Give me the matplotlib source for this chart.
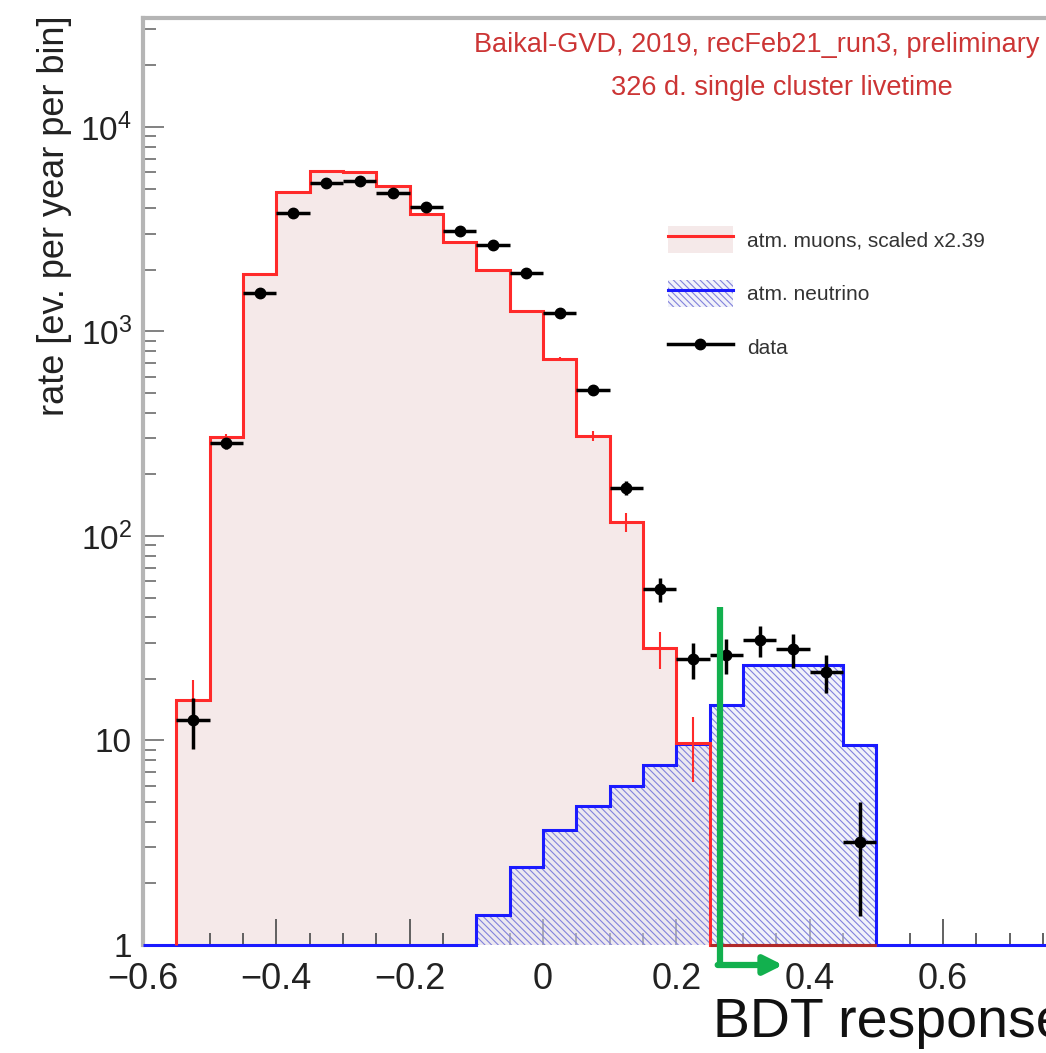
import numpy as np
import matplotlib
matplotlib.use("Agg")
import matplotlib.pyplot as plt
from matplotlib.patches import Patch
from matplotlib.lines import Line2D
from matplotlib.legend_handler import HandlerTuple

plt.rcParams['font.family'] = ['Liberation Sans', 'DejaVu Sans']
plt.rcParams['mathtext.fontset'] = 'custom'
plt.rcParams['mathtext.rm'] = 'Liberation Sans'
plt.rcParams['mathtext.it'] = 'Liberation Sans'
plt.rcParams['hatch.linewidth'] = 0.8

# ---------------- data ----------------
bin_width = 0.05
# muon MC: bins from -0.55 to 0.50
mu_edges = np.round(np.arange(-0.55, 0.50 + 1e-9, bin_width), 3)
muon = [15.8, 305, 1910, 4820, 6110, 6000, 5160, 3750, 2750, 2000, 1260,
        734, 308, 117, 28.2, 9.7, 0, 0, 0, 0, 0]
muon_err = [4.0, 10, 20, 30, 35, 35, 30, 25, 20, 20, 15,
            18, 18, 12, 5.8, 3.4, 0, 0, 0, 0, 0]
# atmospheric neutrino MC: bins from -0.60 to 0.80
nu_edges = np.round(np.arange(-0.60, 0.80 + 1e-9, bin_width), 3)
neutrino = [0, 0, 0, 0, 0, 0, 0, 0, 0, 0,
            1.40, 2.40, 3.65, 4.79, 6.0, 7.59, 9.6, 14.9, 23.5, 23.5, 23.5, 9.5,
            0, 0, 0, 0, 0, 0]
# data: same bins as muon MC
data = [12.6, 284, 1540, 3780, 5310, 5460, 4770, 4050, 3100, 2650, 1940,
        1236, 517, 172, 54.8, 24.9, 26.2, 31.0, 27.9, 21.7, 3.18]
data_err = [3.5, 17, 39, 61, 73, 74, 69, 64, 56, 51, 44,
            35, 23, 13, 7.4, 5.0, 5.1, 5.3, 5.2, 4.6, 1.8]

cut_value = 0.265      # BDT cut (green arrow)
cut_arrow_top = 45     # top of the green marker line
cut_arrow_end = 0.36

x_ticks = [-0.6, -0.4, -0.2, 0, 0.2, 0.4, 0.6, 0.8]
x_tick_labels = ['\u22120.6', '\u22120.4', '\u22120.2', '0', '0.2', '0.4', '0.6', '']
y_ticks = [1, 10, 100, 1000, 10000]
y_tick_labels = ['1', '10', r'$\mathregular{10^{2}}$', r'$\mathregular{10^{3}}$', r'$\mathregular{10^{4}}$']

YMIN, YMAX = 1.0, 3.41e4
XMIN, XMAX = -0.6, 0.8

# colours
RED = '#ff2a2a'
DARKRED = '#b02a2a'
PINK = '#f5e9e9'
BLUE = '#1a1aff'
HATCH = '#8282dc'
NUFACE = (0.90, 0.91, 0.97, 0.55)
GREEN = '#12b04e'
TITLE_RED = '#cc3535'

# ---------------- figure ----------------
W, H = 1046, 1053
fig = plt.figure(figsize=(W / 100, H / 100), dpi=100)
ax_left, ax_top, ax_bottom = 143, 18, 945
px_per_unit = 666.7
ax_right = 543 + XMAX * px_per_unit
ax = fig.add_axes([ax_left / W, 1 - ax_bottom / H, (ax_right - ax_left) / W, (ax_bottom - ax_top) / H])
ax.set_yscale('log')
ax.set_xlim(XMIN, XMAX)
ax.set_ylim(YMIN, YMAX)

muon_a = np.array(muon, float)
nu_a = np.array(neutrino, float)
mu_plot = np.where(muon_a > 0, muon_a, YMIN)
nu_plot = np.where(nu_a > 0, nu_a, YMIN)

# fills
ax.stairs(mu_plot, mu_edges, baseline=YMIN, fill=True, facecolor=PINK, zorder=1)
ax.stairs(nu_plot, nu_edges, baseline=YMIN, fill=True, facecolor=NUFACE,
          edgecolor=HATCH, hatch='\\\\\\\\\\', linewidth=0, zorder=2)
# outlines
ax.stairs(nu_plot, nu_edges, baseline=YMIN, color=BLUE, linewidth=2.2, zorder=3, clip_on=False)
ax.stairs(mu_plot, mu_edges, baseline=YMIN, color=RED, linewidth=2.2, zorder=3.5, clip_on=False)
# zero-content muon bins drawn at the axis floor in a darker tone
zero_mu = np.where(muon_a > 0, np.nan, YMIN)
ax.stairs(zero_mu, mu_edges, baseline=None, color=DARKRED, linewidth=2.2, zorder=3.6, clip_on=False)

mu_centers = (mu_edges[:-1] + mu_edges[1:]) / 2
mask = muon_a > 0
ax.errorbar(mu_centers[mask], muon_a[mask], yerr=np.array(muon_err)[mask], fmt='none',
            ecolor=RED, elinewidth=1.5, zorder=3.6)

ax.errorbar(mu_centers, data, yerr=data_err, xerr=bin_width / 2, fmt='o', color='black',
            ms=7.5, elinewidth=2.5, capsize=0, zorder=5)

# cut arrow
y_low = 10 ** (-20 / 204.5)
ax.plot([cut_value, cut_value], [cut_arrow_top, y_low], color=GREEN, lw=4.5,
        solid_capstyle='butt', clip_on=False, zorder=6)
ax.annotate('', xy=(cut_arrow_end, y_low), xytext=(cut_value - 0.003, y_low),
            arrowprops=dict(arrowstyle='-|>', color=GREEN, lw=4.5, mutation_scale=28,
                            shrinkA=0, shrinkB=0),
            annotation_clip=False, zorder=6)

# axes style
for s in ['right', 'bottom']:
    ax.spines[s].set_visible(False)
for s in ['left', 'top']:
    ax.spines[s].set_color('#b5b5b5')
    ax.spines[s].set_linewidth(3)
ax.set_xticks(x_ticks)
ax.set_xticklabels(x_tick_labels)
ax.set_xticks(np.round(np.arange(-0.55, 0.8, 0.05), 3), minor=True)
ax.set_yticks(y_ticks)
ax.set_yticklabels(y_tick_labels)
ax.tick_params(axis='x', which='major', direction='in', length=19, width=1.3, color='#555555',
               labelsize=26, pad=12, labelcolor='#222222', top=False)
ax.tick_params(axis='x', which='minor', direction='in', length=9, width=1.3, color='#555555', top=False)
ax.tick_params(axis='y', which='major', direction='in', length=15, width=1.3, color='#777777',
               labelsize=24, pad=8, labelcolor='#222222', right=False)
ax.tick_params(axis='y', which='minor', direction='in', length=9, width=1.3, color='#777777', right=False)
ax.yaxis.set_minor_formatter(matplotlib.ticker.NullFormatter())

# texts
fig.text(757 / W, 1 - 45 / H, 'Baikal-GVD, 2019, recFeb21_run3, preliminary', color=TITLE_RED,
         fontsize=19.5, ha='center', va='center')
fig.text(782 / W, 1 - 88 / H, '326 d. single cluster livetime', color=TITLE_RED,
         fontsize=19.5, ha='center', va='center')
fig.text(713 / W, 1 - 1023 / H, 'BDT response', fontsize=40, ha='left', va='center', color='#111111')
fig.text(55 / W, 1 - 15 / H, 'rate [ev. per year per bin]', fontsize=26, rotation=90,
         ha='center', va='top', color='#222222')

# legend
h_mu = (Patch(facecolor=PINK, edgecolor='none'), Line2D([], [], color=RED, lw=2.2))
h_nu = (Patch(facecolor=NUFACE, edgecolor=HATCH, hatch='\\\\\\\\\\', linewidth=0),
        Line2D([], [], color=BLUE, lw=2.2))
h_da = Line2D([], [], color='black', lw=2.5, marker='o', ms=7.5)
fig.legend([h_mu, h_nu, h_da], ['atm. muons, scaled x2.39', 'atm. neutrino', 'data'],
           handler_map={tuple: HandlerTuple(ndivide=1)},
           loc='upper left', bbox_to_anchor=(668 / W, 1 - 226 / H), bbox_transform=fig.transFigure,
           frameon=False, fontsize=15, handlelength=3.1, handleheight=1.6, handletextpad=0.7,
           labelspacing=1.3, borderpad=0, borderaxespad=0, labelcolor='#333333')

fig.savefig('out.png', dpi=100)
